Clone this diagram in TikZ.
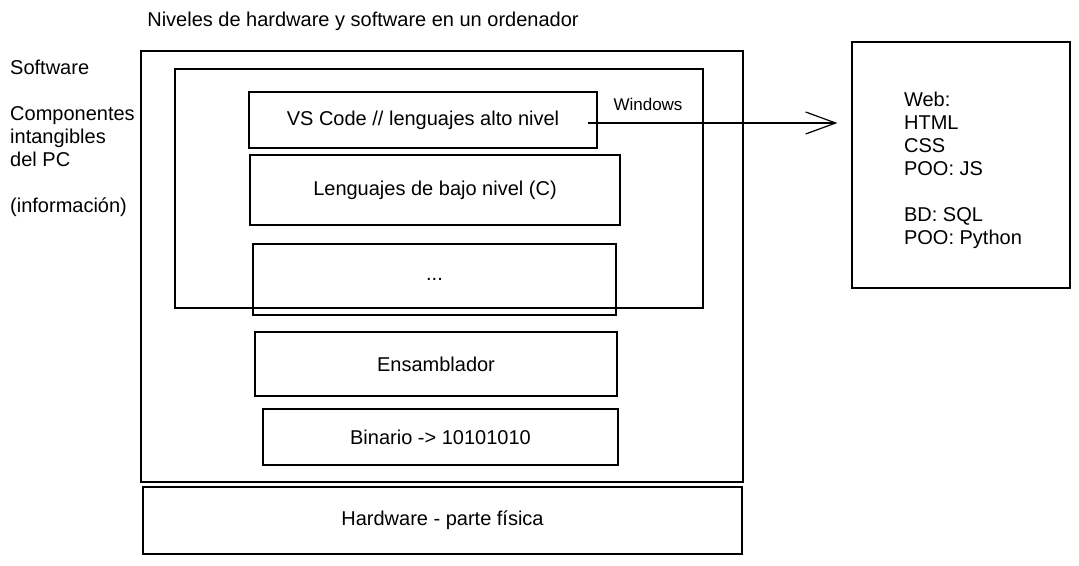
\documentclass[tikz,border=0pt]{standalone}
\usepackage{fontspec}
\setmainfont{Liberation Sans}
\usepackage{tikz}
\usetikzlibrary{arrows.meta}

\begin{document}
\begin{tikzpicture}[x=1pt,y=-1pt]
\tikzset{layer/.style = {shape=rectangle,draw,line width=1.2pt,inner sep=0pt,font=\fontsize{20}{23}\selectfont}}
\tikzset{txt/.style = {inner sep=0pt,font=\fontsize{20}{23}\selectfont}}
\tikzset{link/.style = {-{Straight Barb[length=30pt,width=22pt]},line width=1.2pt}}
\useasboundingbox (0,0) rectangle (1079,565);

% labels
\node[txt] (title) at (363,21) {Niveles de hardware y software en un ordenador};
\node[txt,align=left,anchor=north west] (side) at (10,59.5) {Software\\[23pt]Componentes\\intangibles\\del PC\\[23pt](información)};

% layers
\node[layer,minimum width=602,minimum height=431] (sw) at (442,266.5) {};
\node[layer,minimum width=528,minimum height=239] (hl) at (439,188.5) {};
\node[layer,minimum width=348,minimum height=56] (vs) at (423,120) {VS Code // lenguajes alto nivel};
\node[layer,minimum width=370,minimum height=70] (low) at (435,190) {Lenguajes de bajo nivel (C)};
\node[layer,minimum width=363,minimum height=71] (dots) at (434.5,279.5) {...};
\node[layer,minimum width=362,minimum height=64] (asm) at (436,364) {Ensamblador};
\node[layer,minimum width=355,minimum height=56] (bin) at (440.5,437) {Binario -> 10101010};
\node[layer,minimum width=599,minimum height=67] (hw) at (442.5,520.5) {Hardware - parte física};
\node[layer,minimum width=218,minimum height=246] (web) at (961,165) {};
\node[txt,align=left] (langs) at (963,170) {Web:\\HTML\\CSS\\POO: JS\\[23pt]BD: SQL\\POO: Python};
\node[inner sep=0pt,font=\fontsize{17}{20}\selectfont] (win) at (648,104) {Windows};

%edges
\draw[link] ([shift={(-10,3)}]vs.east) -- ([shift={(-14,3)}]vs.east -| web.west);

\end{tikzpicture}
\end{document}
